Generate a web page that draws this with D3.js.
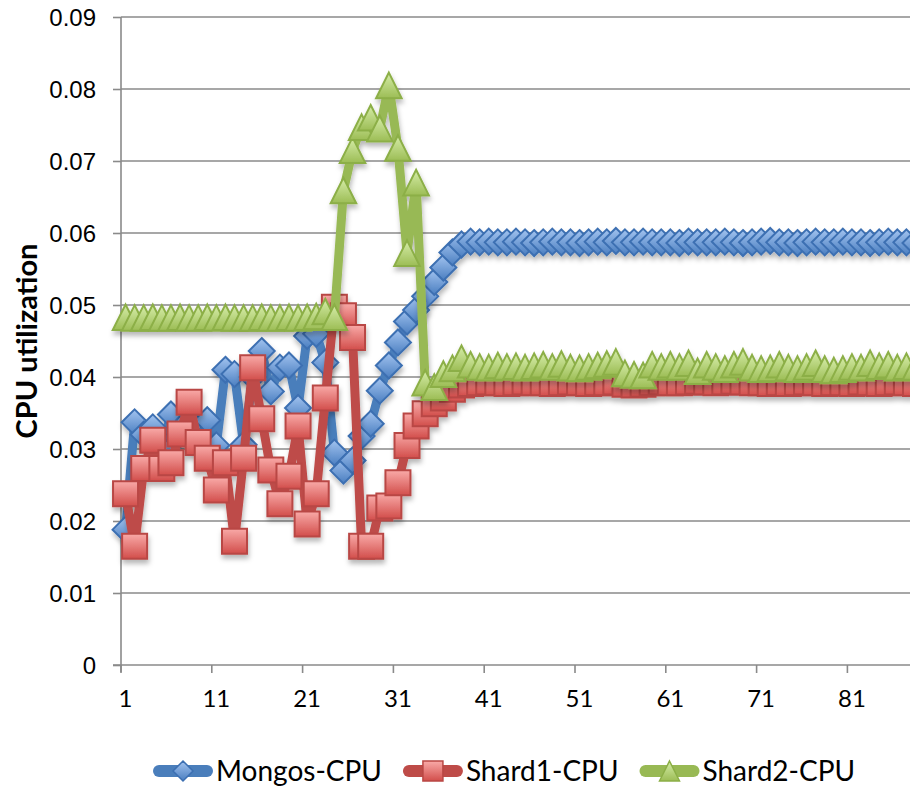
<!DOCTYPE html>
<html>
<head>
<meta charset="utf-8">
<script src="https://cdn.jsdelivr.net/npm/d3@7"></script>
<style>
  body { margin: 0; background: #fff; }
  svg { display: block; font-family: Lato, "Open Sans", sans-serif; }
</style>
</head>
<body>
<svg id="chart"></svg>
<script>
// categories (sample index) and the three series
const categories = d3.range(1, 91);

const mongosCpu = [
  0.0188, 0.0337, 0.0320, 0.0330, 0.0300, 0.0348, 0.0320, 0.0340, 0.0310, 0.0340,
  0.0305, 0.0410, 0.0404, 0.0306, 0.0400, 0.0436, 0.0380, 0.0413, 0.0416, 0.0357,
  0.0457, 0.0460, 0.0420, 0.0295, 0.0270, 0.0284, 0.0318, 0.0335, 0.0381, 0.0416,
  0.0448, 0.0477, 0.0493, 0.0512, 0.0532, 0.0552, 0.0573, 0.0584, 0.0588, 0.0587,
  0.0588, 0.0587, 0.0587, 0.0588, 0.0587, 0.0586, 0.0587, 0.0588, 0.0587, 0.0587,
  0.0586, 0.0587, 0.0588, 0.0587, 0.0589, 0.0587, 0.0587, 0.0588, 0.0587, 0.0587,
  0.0587, 0.0586, 0.0588, 0.0587, 0.0587, 0.0587, 0.0588, 0.0587, 0.0586, 0.0587,
  0.0588, 0.0589, 0.0587, 0.0587, 0.0586, 0.0587, 0.0588, 0.0587, 0.0587, 0.0588,
  0.0587, 0.0587, 0.0586, 0.0587, 0.0588, 0.0587, 0.0587, 0.0586, 0.0587, 0.0587
];

const shard1Cpu = [
  0.0238, 0.0165, 0.0273, 0.0312, 0.0273, 0.0281, 0.0321, 0.0365, 0.0309, 0.0287,
  0.0243, 0.0281, 0.0172, 0.0287, 0.0413, 0.0342, 0.0271, 0.0224, 0.0262, 0.0332,
  0.0196, 0.0238, 0.0371, 0.0497, 0.0485, 0.0455, 0.0165, 0.0165, 0.0218, 0.0221,
  0.0253, 0.0305, 0.0332, 0.0349, 0.0363, 0.0371, 0.0383, 0.0389, 0.0391, 0.0392,
  0.0393, 0.0392, 0.0391, 0.0392, 0.0393, 0.0392, 0.0392, 0.0391, 0.0392, 0.0393,
  0.0392, 0.0391, 0.0392, 0.0392, 0.0393, 0.0390, 0.0389, 0.0390, 0.0392, 0.0393,
  0.0392, 0.0392, 0.0393, 0.0394, 0.0393, 0.0392, 0.0393, 0.0394, 0.0393, 0.0392,
  0.0392, 0.0391, 0.0392, 0.0391, 0.0392, 0.0393, 0.0392, 0.0391, 0.0392, 0.0392,
  0.0391, 0.0393, 0.0392, 0.0391, 0.0392, 0.0393, 0.0392, 0.0391, 0.0392, 0.0392
];

const shard2Cpu = [
  0.0483, 0.0482, 0.0482, 0.0483, 0.0482, 0.0482, 0.0483, 0.0482, 0.0482, 0.0483,
  0.0482, 0.0483, 0.0482, 0.0482, 0.0482, 0.0483, 0.0482, 0.0482, 0.0483, 0.0482,
  0.0483, 0.0484, 0.0491, 0.0483, 0.0659, 0.0715, 0.0747, 0.0760, 0.0745, 0.0805,
  0.0718, 0.0572, 0.0670, 0.0392, 0.0386, 0.0404, 0.0412, 0.0426, 0.0417, 0.0414,
  0.0413, 0.0416, 0.0414, 0.0415, 0.0413, 0.0415, 0.0417, 0.0414, 0.0418, 0.0413,
  0.0412, 0.0414, 0.0416, 0.0418, 0.0421, 0.0405, 0.0403, 0.0402, 0.0417, 0.0414,
  0.0417, 0.0414, 0.0419, 0.0408, 0.0417, 0.0414, 0.0411, 0.0417, 0.0421, 0.0413,
  0.0411, 0.0412, 0.0417, 0.0413, 0.0411, 0.0414, 0.0419, 0.0411, 0.0409, 0.0411,
  0.0414, 0.0413, 0.0419, 0.0415, 0.0417, 0.0413, 0.0415, 0.0414, 0.0413, 0.0414
];

const seriesNames = ['Mongos-CPU', 'Shard1-CPU', 'Shard2-CPU'];
const yTicks = [0, 0.01, 0.02, 0.03, 0.04, 0.05, 0.06, 0.07, 0.08, 0.09];
const xLabels = [1, 11, 21, 31, 41, 51, 61, 71, 81];
const yTitle = 'CPU utilization';

// size
const W = 910, H = 789;
const plot = { left: 121, top: 17, bottom: 665, catWidth: 9.08 };

const svg = d3.select('#chart').attr('width', W).attr('height', H);

// scales
const x = d3.scaleBand()
  .domain(categories)
  .range([plot.left, plot.left + categories.length * plot.catWidth])
  .paddingInner(0).paddingOuter(0);
const cx = d => x(d) + x.bandwidth() / 2;

const y = d3.scaleLinear().domain([0, 0.09]).range([plot.bottom, plot.top]);

const gridColor = '#8a8a8a';

// styles per series
const styles = [
  { line: '#4a7ebb', stroke: '#3c6fb2', top: '#a3c4f0', bottom: '#4a7ec0', shape: 'diamond' },
  { line: '#be4b48', stroke: '#b94744', top: '#f9aaa8', bottom: '#d24e4b', shape: 'square' },
  { line: '#98b954', stroke: '#8caf47', top: '#d6eda9', bottom: '#9cbd55', shape: 'triangle' }
];

const defs = svg.append('defs');
styles.forEach((s, i) => {
  const g = defs.append('linearGradient')
    .attr('id', 'grad' + i).attr('x1', 0).attr('y1', 0).attr('x2', 0).attr('y2', 1);
  g.append('stop').attr('offset', '0%').attr('stop-color', s.top);
  g.append('stop').attr('offset', '100%').attr('stop-color', s.bottom);
});
defs.append('filter').attr('id', 'shadow')
  .attr('x', '-20%').attr('y', '-20%').attr('width', '140%').attr('height', '140%')
  .append('feDropShadow')
    .attr('dx', 1).attr('dy', 4).attr('stdDeviation', 2.5)
    .attr('flood-color', '#000').attr('flood-opacity', 0.28);

function markerPath(shape, r) {
  if (shape === 'diamond') return `M0,${-r}L${r},0L0,${r}L${-r},0Z`;
  if (shape === 'square') return `M${-r},${-r}H${r}V${r}H${-r}Z`;
  return `M0,${-r}L${r},${r}L${-r},${r}Z`;
}
const markerSize = { diamond: 13, square: 12.5, triangle: 12.8 };

// gridlines
svg.append('g').selectAll('line.grid')
  .data(yTicks.filter(d => d > 0))
  .enter().append('line')
    .attr('class', 'grid')
    .attr('x1', plot.left).attr('x2', x.range()[1])
    .attr('y1', d => y(d)).attr('y2', d => y(d))
    .attr('stroke', gridColor).attr('stroke-width', 1.6);

// y axis
const yAxis = svg.append('g')
  .attr('transform', `translate(${plot.left},0)`)
  .call(d3.axisLeft(y)
    .tickValues(yTicks)
    .tickSize(8)
    .tickPadding(17)
    .tickFormat(d => d === 0 ? '0' : d3.format('.2f')(d)));
yAxis.select('.domain').attr('stroke', gridColor).attr('stroke-width', 1.6)
  .attr('d', `M0,${plot.top}V${plot.bottom + 7}`);
yAxis.selectAll('.tick line').attr('stroke', gridColor).attr('stroke-width', 1.6);
yAxis.selectAll('.tick text')
  .style('font-size', '24px').attr('fill', '#000').attr('dy', '0.36em');

// x axis: line, tick marks between categories every 10, labels on category centres
const xAxis = svg.append('g');
xAxis.append('line')
  .attr('x1', plot.left - 8).attr('x2', x.range()[1])
  .attr('y1', plot.bottom).attr('y2', plot.bottom)
  .attr('stroke', gridColor).attr('stroke-width', 1.6);
xAxis.selectAll('line.xtick')
  .data(xLabels)
  .enter().append('line')
    .attr('class', 'xtick')
    .attr('x1', d => x(d)).attr('x2', d => x(d))
    .attr('y1', plot.bottom).attr('y2', plot.bottom + 8)
    .attr('stroke', gridColor).attr('stroke-width', 1.6);
xAxis.selectAll('text')
  .data(xLabels)
  .enter().append('text')
    .attr('x', d => cx(d))
    .attr('y', 707)
    .attr('text-anchor', 'middle')
    .style('font-size', '24px')
    .text(d => d);

// y title, centred on the plot area
svg.append('text')
  .attr('transform', `translate(37,${(plot.top + plot.bottom) / 2}) rotate(-90)`)
  .attr('text-anchor', 'middle')
  .style('font-size', '29px')
  .style('font-weight', 'bold')
  .text(yTitle);

// series
const seriesData = [mongosCpu, shard1Cpu, shard2Cpu];
const line = d3.line()
  .x((d, i) => cx(categories[i]))
  .y(d => y(d));

seriesData.forEach((values, si) => {
  const s = styles[si];
  const g = svg.append('g').attr('filter', 'url(#shadow)');
  g.append('path')
    .datum(values)
    .attr('d', line)
    .attr('fill', 'none')
    .attr('stroke', s.line)
    .attr('stroke-width', 9)
    .attr('stroke-linejoin', 'round')
    .attr('stroke-linecap', 'round');
  g.selectAll('path.marker')
    .data(values)
    .enter().append('path')
      .attr('class', 'marker')
      .attr('transform', (d, i) => `translate(${cx(categories[i])},${y(d)})`)
      .attr('d', markerPath(s.shape, markerSize[s.shape]))
      .attr('fill', `url(#grad${si})`)
      .attr('stroke', s.stroke)
      .attr('stroke-width', 2);
});

// legend (kept just inside the bottom edge so the descenders are not cut)
const legend = svg.append('g').attr('transform', 'translate(153,771)');
let offset = 0;
seriesNames.forEach((name, i) => {
  const s = styles[i];
  const item = legend.append('g').attr('transform', `translate(${offset},0)`);
  item.append('line')
    .attr('x1', 6).attr('x2', 54).attr('y1', 0).attr('y2', 0)
    .attr('stroke', s.line).attr('stroke-width', 12).attr('stroke-linecap', 'round');
  item.append('path')
    .attr('transform', 'translate(30,0)')
    .attr('d', markerPath(s.shape, 10))
    .attr('fill', `url(#grad${i})`)
    .attr('stroke', s.stroke).attr('stroke-width', 1.5);
  const t = item.append('text')
    .attr('x', 63).attr('y', 10)
    .style('font-size', '28px')
    .text(name);
  offset += 63 + t.node().getComputedTextLength() + 21;
});
</script>
</body>
</html>
